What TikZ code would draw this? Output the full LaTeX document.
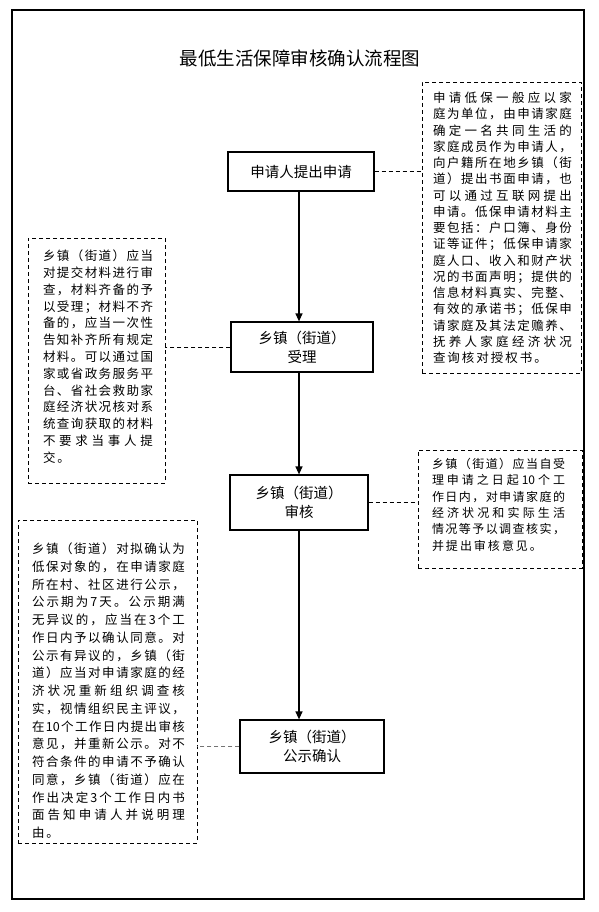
\documentclass[tikz,border=0pt]{standalone}
\usepackage{fontspec}
\setmainfont{Noto Sans CJK SC}
\usetikzlibrary{arrows.meta}

% spread the characters of one line over the line width
\newdimen\cgap \cgap=2pt
\long\def\gobbleone#1{}
\long\def\firstone#1{#1}
\def\spreadendtok{\relax}
\def\spreadchars#1#2{#1\def\spreadtmp{#2}\ifx\spreadtmp\spreadendtok\expandafter\gobbleone\else\expandafter\firstone\fi{\hskip\cgap plus 1fil minus \cgap\relax\spreadchars{#2}}}
\newcommand\jline[1]{\noindent\makebox[\linewidth][s]{\spreadchars#1\relax}\par}
\newcommand\eline[1]{\noindent\makebox{\spreadchars#1\relax}\par}
% left pad, text width, right pad, height, top skip, font size, line skip, lines
\newcommand\notebody[8]{\hspace*{#1}\parbox[c][#4][t]{#2}{\vspace*{#5}\fontsize{#6}{#7}\selectfont #8}\hspace*{#3}}

\begin{document}
\begin{tikzpicture}[
    x=1pt, y=-1pt,
    stepbox/.style={draw, line width=1.2pt, inner sep=0pt, align=center,
        font=\fontsize{14.5}{19}\selectfont},
    notebox/.style={draw, dashed, dash pattern=on 4pt off 3pt, line width=0.9pt,
        inner sep=0pt, outer sep=0pt, anchor=north west},
    flow/.style={draw, line width=1.2pt, -{Triangle[length=8pt,width=7pt]}},
    link/.style={draw, dash pattern=on 4pt off 3pt, line width=0.9pt}
]
\useasboundingbox (0,0) rectangle (598,912);
\draw[line width=1.2pt] (12,10) rectangle (584,899);

\node[font=\fontsize{18.5}{22}\selectfont] (title) at (300,58) {最低生活保障审核确认流程图};

% main steps
\node[stepbox, minimum width=146pt, minimum height=39pt] (apply) at (301,171.5) {申请人提出申请};
\node[stepbox, minimum width=142pt, minimum height=50pt] (accept) at (302,347) {乡镇（街道）\\受理};
\node[stepbox, minimum width=138pt, minimum height=55pt] (review) at (299,502.5) {乡镇（街道）\\审核};
\node[stepbox, minimum width=144pt, minimum height=53pt] (publicize) at (312,746.5) {乡镇（街道）\\公示确认};

% notes
\node[notebox] (noteapply) at (422,82) {\notebody{11pt}{139pt}{9pt}{291pt}{10pt}{12.5}{16.25}{%
    \jline{申请低保一般应以家}
    \jline{庭为单位，由申请家庭}
    \jline{确定一名共同生活的}
    \jline{家庭成员作为申请人，}
    \jline{向户籍所在地乡镇（街}
    \jline{道）提出书面申请，也}
    \jline{可以通过互联网提出}
    \jline{申请。低保申请材料主}
    \jline{要包括：户口簿、身份}
    \jline{证等证件；低保申请家}
    \jline{庭人口、收入和财产状}
    \jline{况的书面声明；提供的}
    \jline{信息材料真实、完整、}
    \jline{有效的承诺书；低保申}
    \jline{请家庭及其法定赡养、}
    \jline{抚养人家庭经济状况}
    \eline{查询核对授权书。}}};
\node[notebox] (noteaccept) at (28,238) {\notebody{15pt}{110pt}{12pt}{245pt}{12pt}{12.5}{16.8}{%
    \jline{乡镇（街道）应当}
    \jline{对提交材料进行审}
    \jline{查，材料齐备的予}
    \jline{以受理；材料不齐}
    \jline{备的，应当一次性}
    \jline{告知补齐所有规定}
    \jline{材料。可以通过国}
    \jline{家或省政务服务平}
    \jline{台、省社会救助家}
    \jline{庭经济状况核对系}
    \jline{统查询获取的材料}
    \jline{不要求当事人提}
    \eline{交。}}};
\node[notebox] (notereview) at (418,450) {\notebody{14pt}{133pt}{17pt}{118pt}{8pt}{12}{16.4}{%
    \jline{乡镇（街道）应当自受}
    \jline{理申请之日起{10}个工}
    \jline{作日内，对申请家庭的}
    \jline{经济状况和实际生活}
    \jline{情况等予以调查核实，}
    \eline{并提出审核意见。}}};
\node[notebox] (notepublic) at (18,520) {\notebody{14pt}{153pt}{12pt}{323pt}{23pt}{12.5}{17.75}{%
    \jline{乡镇（街道）对拟确认为}
    \jline{低保对象的，在申请家庭}
    \jline{所在村、社区进行公示，}
    \jline{公示期为7天。公示期满}
    \jline{无异议的，应当在3个工}
    \jline{作日内予以确认同意。对}
    \jline{公示有异议的，乡镇（街}
    \jline{道）应当对申请家庭的经}
    \jline{济状况重新组织调查核}
    \jline{实，视情组织民主评议，}
    \jline{在{10}个工作日内提出审核}
    \jline{意见，并重新公示。对不}
    \jline{符合条件的申请不予确认}
    \jline{同意，乡镇（街道）应在}
    \jline{作出决定3个工作日内书}
    \jline{面告知申请人并说明理}
    \eline{由。}}};

% connectors
\draw[flow] (apply.south -| review.south) -- (accept.north -| review.south);
\draw[flow] (accept.south -| review.north) -- (review.north);
\draw[flow] (review.south) -- (review.south |- publicize.north);
\draw[link] (apply.east) -- (apply.east -| noteapply.west);
\draw[link] (accept.west) -- (accept.west -| noteaccept.east);
\draw[link] (review.east) -- (review.east -| notereview.west);
\draw[link, black!55] (publicize.west) -- (publicize.west -| notepublic.east);
\end{tikzpicture}
\end{document}
